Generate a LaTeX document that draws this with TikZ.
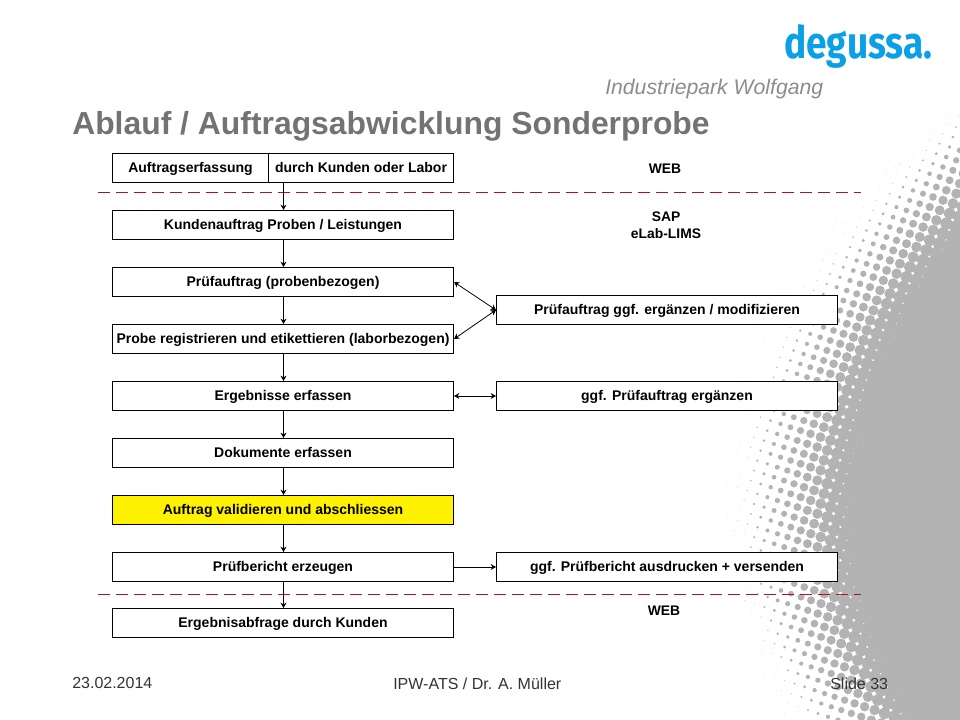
\documentclass[tikz,border=0pt]{standalone}
\usepackage{fontspec}
\setmainfont{Liberation Sans}
\newfontfamily\logofont{Fira Sans}
\usetikzlibrary{arrows.meta}
\definecolor{halftone}{HTML}{B3B3B3}
\definecolor{titlegray}{HTML}{737373}
\definecolor{subgray}{HTML}{8C8C8C}
\definecolor{footgray}{HTML}{333333}
\definecolor{logoblue}{HTML}{0A9FE6}
\definecolor{dashred}{HTML}{B5121B}
\tikzset{
  flowbox/.style={draw=black,fill=white,line width=.75pt,inner sep=0pt,minimum height=21.75pt,
    font=\fontsize{10.5}{12}\selectfont\bfseries,text=black,text height=7pt,text depth=0pt,align=center},
  leftbox/.style={flowbox,minimum width=255.75pt},
  rightbox/.style={flowbox,minimum width=255.75pt},
  raisedtext/.style={text depth=1pt},
  flowarrow/.style={draw=black,line width=.75pt,-{Stealth[length=4pt,width=4.5pt]}},
  twoway/.style={draw=black,line width=.6pt,{Stealth[length=4pt,width=4.5pt]}-{Stealth[length=4pt,width=4.5pt]}},
  zoneline/.style={draw=dashred,line width=.75pt,dash pattern=on 9pt off 4.5pt},
  zonelabel/.style={font=\fontsize{10.4}{12.7}\selectfont\bfseries,align=center,inner sep=0pt,text=black},
  foot/.style={font=\fontsize{12}{14}\selectfont,text=footgray,inner sep=0pt,anchor=base west}
}
\begin{document}
\begin{tikzpicture}[x=.75pt,y=-.75pt]
\useasboundingbox (0,0) rectangle (960,720);
\clip (0,0) rectangle (960,720);
% halftone background
\foreach \i in {62,...,110}{
  \foreach \j in {-24,...,46}{
    \pgfmathsetmacro{\px}{\i*10-\j*3.3}
    \pgfmathsetmacro{\py}{\i*3.3+\j*10}
    \pgfmathsetmacro{\xm}{830+14*((\py-510)/100)^2}
    \pgfmathsetmacro{\tt}{\px-\xm}
    \pgfmathsetmacro{\rad}{max(0.45,min(8,0.062*(\tt+96)))}
    \pgfmathsetmacro{\op}{min(1,(\tt+125)/50)}
    \pgfmathparse{(\op>0.05 && \py>80 && \py<730 && \px<975) ? 1 : 0}
    \ifnum\pgfmathresult=1
      \fill[halftone,fill opacity=\op] (\px,\py) circle[radius=\rad];
    \fi
  }
}
% header
\node[anchor=base west,inner sep=0pt,text=logoblue,font=\logofont\fontsize{33.5}{34}\selectfont\bfseries] (logo) at (784,59) {\scalebox{.83}[1]{degussa.}};
\node[anchor=base west,inner sep=0pt,text=subgray,font=\fontsize{15.9}{18}\selectfont\itshape] (site) at (605,95) {Industriepark Wolfgang};
\node[anchor=base west,inner sep=0pt,text=titlegray,font=\fontsize{23.9}{27}\selectfont\bfseries] (title) at (72,135) {Ablauf / Auftragsabwicklung Sonderprobe};
% dashed lines
\coordinate (d1a) at (98,192.5); \coordinate (d1b) at (861,192.5);
\coordinate (d2a) at (98,594.5); \coordinate (d2b) at (861,594.5);
\draw[zoneline] (d1a) -- (d1b);
\draw[zoneline] (d2a) -- (d2b);
% left column
\node[flowbox,minimum width=117pt] (a1) at (190.5,168) {Auftragserfassung};
\node[flowbox,minimum width=138.75pt] (a2) at (361,168) {durch Kunden oder Labor};
\node[leftbox] (b) at (283,225) {Kundenauftrag Proben / Leistungen};
\node[leftbox] (c) at (283,282) {Prüfauftrag (probenbezogen)};
\node[leftbox] (d) at (283,339) {Probe registrieren und etikettieren (laborbezogen)};
\node[leftbox] (e) at (283,396) {Ergebnisse erfassen};
\node[leftbox,raisedtext] (f) at (283,453) {Dokumente erfassen};
\node[leftbox,raisedtext,fill=yellow] (g) at (283,510) {Auftrag validieren und abschliessen};
\node[leftbox,raisedtext] (h) at (283,567) {Prüfbericht erzeugen};
\node[leftbox] (i) at (283,623) {Ergebnisabfrage durch Kunden};
% right column
\node[rightbox] (r1) at (667,310) {Prüfauftrag ggf. ergänzen / modifizieren};
\node[rightbox] (r2) at (667,396) {ggf. Prüfauftrag ergänzen};
\node[rightbox,raisedtext] (r3) at (667,567) {ggf. Prüfbericht ausdrucken + versenden};
% labels
\node[zonelabel] (w1) at (665,169) {WEB};
\node[zonelabel] (sap) at (666,225.5) {SAP\\eLab-LIMS};
\node[zonelabel] (w2) at (664,611) {WEB};
% connectors
\draw[flowarrow] ([xshift=.375pt]a2.south -| b.north) -- ([xshift=.375pt]b.north);
\draw[flowarrow] ([xshift=.375pt]b.south) -- ([xshift=.375pt]c.north);
\draw[flowarrow] ([xshift=.375pt]c.south) -- ([xshift=.375pt]d.north);
\draw[flowarrow] ([xshift=.375pt]d.south) -- ([xshift=.375pt]e.north);
\draw[flowarrow] ([xshift=.375pt]e.south) -- ([xshift=.375pt]f.north);
\draw[flowarrow] ([xshift=.375pt]f.south) -- ([xshift=.375pt]g.north);
\draw[flowarrow] ([xshift=.375pt]g.south) -- ([xshift=.375pt]h.north);
\draw[flowarrow] ([xshift=.375pt]h.south) -- ([xshift=.375pt]i.north);
\draw[twoway] (c.east) -- (r1.west);
\draw[twoway] (d.east) -- (r1.west);
\draw[twoway] (e.east) -- (r2.west);
\draw[flowarrow] (h.east) -- (r3.west);
% footer
\node[foot] (date) at (72,688) {23.02.2014};
\node[foot] (author) at (393,689) {IPW-ATS / Dr. A. Müller};
\node[foot] (slide) at (830,689) {Slide 33};
\end{tikzpicture}
\end{document}
